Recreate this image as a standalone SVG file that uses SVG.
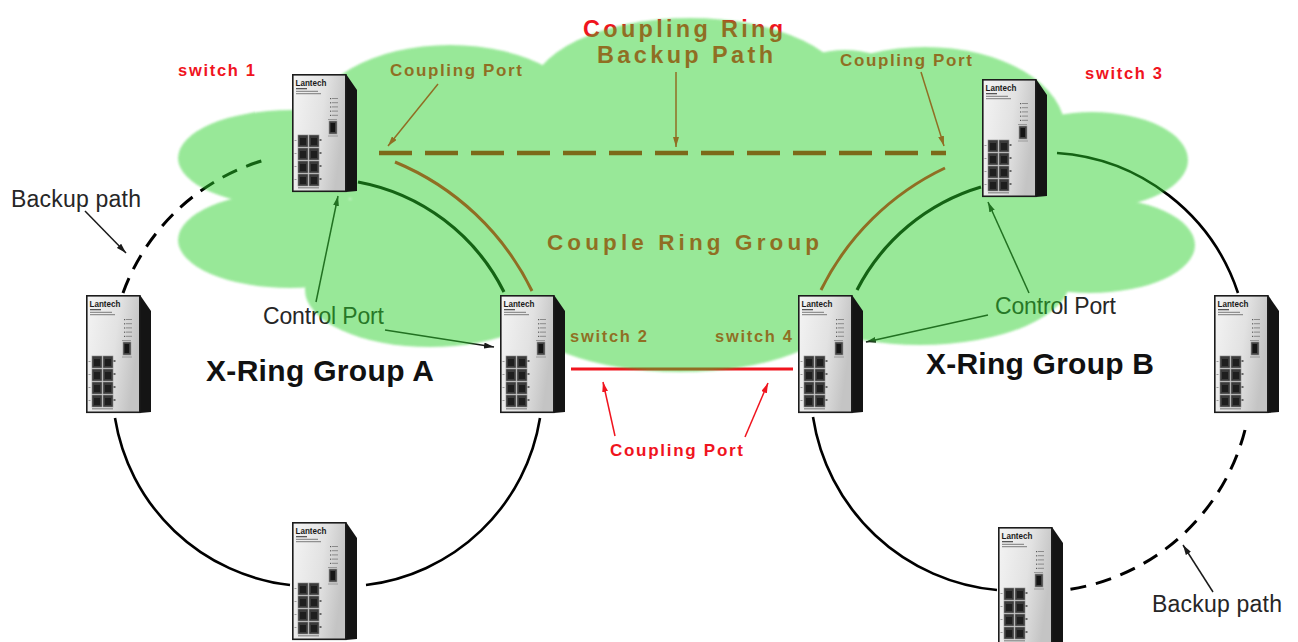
<svg xmlns="http://www.w3.org/2000/svg" xmlns:xlink="http://www.w3.org/1999/xlink" width="1298" height="642" viewBox="0 0 1298 642">
<style>
  .ring{fill:none;stroke:#000;stroke-width:2.6}
  .ringg{fill:none;stroke:#000;stroke-width:3.2}
  .dash{fill:none;stroke:#000;stroke-width:3;stroke-dasharray:16 10}
  .cpl{fill:none;stroke:#f0141e;stroke-width:3}
  .cdash{fill:none;stroke:#c80a0a;stroke-width:4.5;stroke-dasharray:33 13}
  .arR{fill:none;stroke:#f0141e;stroke-width:1.5;marker-end:url(#ahR)}
  .arK{fill:none;stroke:#1a1a1a;stroke-width:1.5;marker-end:url(#ahK)}
  .lbl{font-family:"Liberation Sans",Arial,sans-serif;font-weight:bold;fill:#f0141e}
  .plain{font-family:"Liberation Sans",Arial,sans-serif;fill:#262626;font-size:23px}
  .grp{font-family:"Liberation Sans",Arial,sans-serif;font-weight:bold;fill:#111;font-size:30px}
  .brand{font-family:"Liberation Sans",Arial,sans-serif;font-weight:bold;fill:#1a1a1a;font-size:9.5px}
</style>
<defs>
  <linearGradient id="face" x1="0" y1="0" x2="1" y2="0.3">
    <stop offset="0" stop-color="#f4f4f4"/>
    <stop offset="0.6" stop-color="#e2e2e2"/>
    <stop offset="1" stop-color="#c4c4c4"/>
  </linearGradient>
  <marker id="ahR" viewBox="0 0 10 6" refX="10" refY="3" markerWidth="10" markerHeight="6" markerUnits="userSpaceOnUse" orient="auto">
    <path d="M0,0 L10,3 L0,6 z" fill="#f0141e"/>
  </marker>
  <marker id="ahK" viewBox="0 0 10 6" refX="10" refY="3" markerWidth="10" markerHeight="6" markerUnits="userSpaceOnUse" orient="auto">
    <path d="M0,0 L10,3 L0,6 z" fill="#1a1a1a"/>
  </marker>
  <filter id="soft" x="-5%" y="-5%" width="110%" height="110%">
    <feGaussianBlur stdDeviation="0.8"/>
  </filter>
  <g id="sw">
    <polygon points="46,0 54,0 65,16 65,117 54,118 46,118" fill="#141414"/>
    <rect x="0.8" y="0.8" width="53" height="116.5" fill="url(#face)" stroke="#1c1c1c" stroke-width="1.6"/>
    <text x="3.5" y="11.5" class="brand" textLength="31" lengthAdjust="spacingAndGlyphs">Lantech</text>
    <rect x="4" y="14" width="11" height="1.3" fill="#555"/>
    <rect x="4" y="16.8" width="22" height="1" fill="#7a7a7a"/>
    <rect x="4" y="19.2" width="25" height="1" fill="#7a7a7a"/>
    <g fill="#8a8a8a">
      <rect x="40" y="24" width="6" height="1"/><rect x="40" y="28.2" width="6" height="1"/>
      <rect x="40" y="32.4" width="6" height="1"/><rect x="40" y="36.6" width="6" height="1"/>
      <rect x="40" y="40.8" width="6" height="1"/>
    </g>
    <g fill="#5a5a5a">
      <rect x="38" y="24" width="1.2" height="1.2"/><rect x="38" y="28.2" width="1.2" height="1.2"/>
      <rect x="38" y="32.4" width="1.2" height="1.2"/><rect x="38" y="36.6" width="1.2" height="1.2"/>
      <rect x="38" y="40.8" width="1.2" height="1.2"/>
    </g>
    <rect x="36" y="45" width="9" height="1" fill="#999"/>
    <rect x="37" y="47" width="8" height="13" fill="#444" stroke="#999" stroke-width="0.6"/>
    <rect x="38.5" y="49" width="4.5" height="9" fill="#151515"/>
    <rect x="36" y="61.5" width="10" height="1" fill="#999"/>
    <g>
      <g id="prow">
        <rect x="6" y="61" width="10" height="12" fill="#3b3b3b" stroke="#8c8c8c" stroke-width="0.6"/>
        <rect x="17" y="61" width="10" height="12" fill="#3b3b3b" stroke="#8c8c8c" stroke-width="0.6"/>
        <rect x="8" y="64" width="6" height="7" fill="#1e1e1e"/>
        <rect x="19" y="64" width="6" height="7" fill="#1e1e1e"/>
        <rect x="27.5" y="65" width="2" height="2" fill="#666"/>
        <rect x="2.5" y="66" width="2" height="0.8" fill="#888"/>
      </g>
      <use xlink:href="#prow" href="#prow" y="13"/>
      <use xlink:href="#prow" href="#prow" y="26"/>
      <use xlink:href="#prow" href="#prow" y="39"/>
    </g>
    <rect x="6" y="113" width="21" height="1.5" fill="#9a9a9a"/>
  </g>
</defs>

<rect width="1298" height="642" fill="#ffffff"/>

<g id="connectors">
  <!-- X-Ring Group A -->
  <path class="ringg" d="M 358 182 A 205 205 0 0 1 504 292"/>
  <path class="ring" d="M 115 418 A 200 200 0 0 0 290 585"/>
  <path class="ring" d="M 366 585 A 200 200 0 0 0 540 418"/>
  <path class="dash" d="M 123 293 A 215 215 0 0 1 268 159"/>
  <!-- X-Ring Group B -->
  <path class="ringg" d="M 857 290 A 205 205 0 0 1 981 187"/>
  <path class="ring" d="M 1057 153 A 205 205 0 0 1 1238 293"/>
  <path class="ring" d="M 813 417 A 205 205 0 0 0 997 590"/>
  <path class="dash" d="M 1245 430 A 215 215 0 0 1 1065 590"/>
  <!-- Coupling ring -->
  <path class="cdash" d="M 379 153 H 946"/>
  <path class="cpl" d="M 395 162 A 265 265 0 0 1 532 291"/>
  <path class="cpl" d="M 821 290 A 265 265 0 0 1 945 168"/>
  <path class="cpl" d="M 571 369 H 793"/>
  <!-- annotation arrows -->
  <path class="arR" d="M 438 84 L 388 146"/>
  <path class="arR" d="M 676 72 L 676 147"/>
  <path class="arR" d="M 921 72 L 944 146"/>
  <path class="arR" d="M 615 436 L 603 382"/>
  <path class="arR" d="M 745 437 L 768 383"/>
  <path class="arK" d="M 316 302 L 338 196"/>
  <path class="arK" d="M 385 330 L 494 347"/>
  <path class="arK" d="M 1029 293 L 988 202"/>
  <path class="arK" d="M 988 315 L 866 342"/>
  <path class="arK" d="M 85 211 L 126 253"/>
  <path class="arK" d="M 1213 592 L 1183 545"/>
</g>

<g id="labels">
  <text class="lbl" x="178" y="76" font-size="16.5" textLength="77">switch 1</text>
  <text class="lbl" x="1085" y="79" font-size="16.5" textLength="77">switch 3</text>
  <text class="lbl" x="570" y="342" font-size="16.5" textLength="77">switch 2</text>
  <text class="lbl" x="715" y="342" font-size="16.5" textLength="77">switch 4</text>
  <text class="lbl" x="583" y="37" font-size="23.5" textLength="200">Coupling Ring</text>
  <text class="lbl" x="597" y="63" font-size="23.5" textLength="176">Backup Path</text>
  <text class="lbl" x="390" y="76" font-size="17" textLength="132">Coupling Port</text>
  <text class="lbl" x="840" y="66" font-size="17" textLength="132">Coupling Port</text>
  <text class="lbl" x="610" y="456" font-size="17" textLength="133">Coupling Port</text>
  <text class="lbl" x="547" y="250" font-size="22.5" textLength="272">Couple Ring Group</text>
  <text class="plain" x="263" y="324" textLength="121">Control Port</text>
  <text class="plain" x="995" y="314" textLength="121">Control Port</text>
  <text class="plain" x="11" y="207" textLength="130" fill="#333">Backup path</text>
  <text class="plain" x="1152" y="612" textLength="130" fill="#333">Backup path</text>
  <text class="grp" x="206" y="381" textLength="228">X-Ring Group A</text>
  <text class="grp" x="926" y="374" textLength="228">X-Ring Group B</text>
</g>

<g id="cloud" opacity="0.48" fill="rgb(42,208,42)" filter="url(#soft)">
  <ellipse cx="690" cy="95" rx="160" ry="77"/>
  <ellipse cx="450" cy="125" rx="140" ry="80"/>
  <ellipse cx="925" cy="130" rx="140" ry="83"/>
  <ellipse cx="845" cy="115" rx="80" ry="65"/>
  <ellipse cx="290" cy="158" rx="112" ry="48"/>
  <ellipse cx="290" cy="240" rx="112" ry="48"/>
  <ellipse cx="430" cy="290" rx="125" ry="57"/>
  <ellipse cx="680" cy="210" rx="330" ry="140"/>
  <ellipse cx="680" cy="310" rx="160" ry="62"/>
  <ellipse cx="1092" cy="160" rx="96" ry="48"/>
  <ellipse cx="1090" cy="245" rx="105" ry="48"/>
  <ellipse cx="920" cy="280" rx="150" ry="65"/>
  <ellipse cx="1000" cy="200" rx="110" ry="90"/>
</g>

<g id="switch1" transform="translate(292,74)"><use xlink:href="#sw" href="#sw"/></g>
<g id="switch2" transform="translate(500,295)"><use xlink:href="#sw" href="#sw"/></g>
<g id="switch3" transform="translate(982,79)"><use xlink:href="#sw" href="#sw"/></g>
<g id="switch4" transform="translate(798,295)"><use xlink:href="#sw" href="#sw"/></g>
<g id="switchA-left" transform="translate(86,295)"><use xlink:href="#sw" href="#sw"/></g>
<g id="switchA-bottom" transform="translate(292,522)"><use xlink:href="#sw" href="#sw"/></g>
<g id="switchB-right" transform="translate(1214,295)"><use xlink:href="#sw" href="#sw"/></g>
<g id="switchB-bottom" transform="translate(998,527)"><use xlink:href="#sw" href="#sw"/></g>
</svg>
